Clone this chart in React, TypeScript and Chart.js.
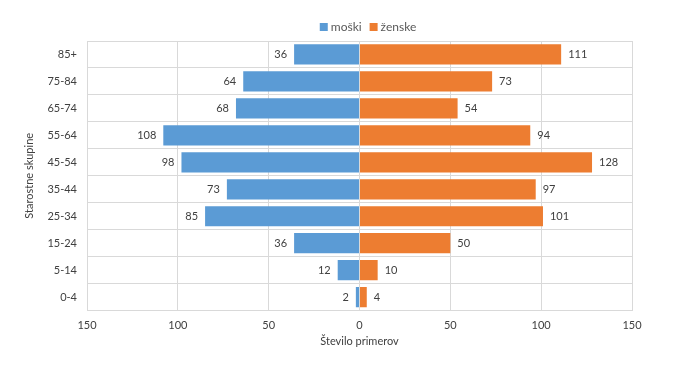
import React, { useEffect, useRef } from "react";
import { Chart, registerables } from "chart.js";

Chart.register(...registerables);

const categories = ["85+", "75-84", "65-74", "55-64", "45-54", "35-44", "25-34", "15-24", "5-14", "0-4"];
const moski = [36, 64, 68, 108, 98, 73, 85, 36, 12, 2];
const zenske = [111, 73, 54, 94, 128, 97, 101, 50, 10, 4];
const xTicks = [-150, -100, -50, 0, 50, 100, 150];
const seriesNames = ["moški", "ženske"];
const seriesColors = ["#5B9BD5", "#ED7D31"];

const FONT = "Lato, 'Liberation Sans', sans-serif";
const TXT = "#404040";

const labelPlugin = {
  id: "barLabels",
  afterDatasetsDraw(chart: any) {
    const ctx = chart.ctx;
    ctx.save();
    ctx.font = `11px ${FONT}`;
    ctx.fillStyle = TXT;
    ctx.textBaseline = "middle";
    chart.data.datasets.forEach((ds: any, di: number) => {
      const meta = chart.getDatasetMeta(di);
      meta.data.forEach((bar: any, i: number) => {
        const v = Math.abs(ds.data[i]);
        if (ds.data[i] < 0) {
          ctx.textAlign = "right";
          ctx.fillText(String(v), bar.x - 7, bar.y);
        } else {
          ctx.textAlign = "left";
          ctx.fillText(String(v), bar.x + 7, bar.y);
        }
      });
    });
    ctx.restore();
  },
};

const legendPlugin = {
  id: "customLegend",
  afterDraw(chart: any) {
    const ctx = chart.ctx;
    ctx.save();
    ctx.font = `12px ${FONT}`;
    ctx.textBaseline = "middle";
    ctx.textAlign = "left";
    const y = 27;
    const gap = 8;
    const widths = chart.data.datasets.map((ds: any) => 8 + 3 + ctx.measureText(ds.label).width);
    const total = widths.reduce((a: number, b: number) => a + b, 0) + gap;
    let x = 368 - total / 2;
    chart.data.datasets.forEach((ds: any, i: number) => {
      ctx.fillStyle = ds.backgroundColor;
      ctx.fillRect(x, y - 4, 8, 8);
      ctx.fillStyle = "#595959";
      ctx.fillText(ds.label, x + 11, y);
      x += widths[i] + gap;
    });
    ctx.restore();
  },
};

export default function App() {
  const ref = useRef<HTMLCanvasElement>(null);
  useEffect(() => {
    if (!ref.current) return;
    const chart = new Chart(ref.current, {
      type: "bar",
      data: {
        labels: categories,
        datasets: [
          { label: seriesNames[0], data: moski.map((v) => -v), backgroundColor: seriesColors[0], barPercentage: 0.75, categoryPercentage: 1 },
          { label: seriesNames[1], data: zenske, backgroundColor: seriesColors[1], barPercentage: 0.75, categoryPercentage: 1 },
        ],
      },
      options: {
        indexAxis: "y",
        responsive: false,
        animation: false,
        layout: { padding: { left: 18, right: 56, top: 41, bottom: 29 } },
        plugins: {
          legend: { display: false },
          tooltip: { enabled: false },
        },
        scales: {
          x: {
            stacked: true,
            min: -150,
            max: 150,
            afterBuildTicks(scale: any) {
              scale.ticks = xTicks.map((v) => ({ value: v }));
            },
            ticks: {
              color: TXT,
              font: { family: FONT, size: 11 },
              padding: 8,
              callback: (v: any) => String(Math.abs(Number(v))),
            },
            grid: { color: "#d9d9d9", drawTicks: false },
            border: { display: false },
            title: { display: true, text: "Število primerov", color: TXT, font: { family: FONT, size: 11 }, padding: { top: -5, bottom: 0 } },
          },
          y: {
            stacked: true,
            afterFit(scale: any) {
              scale.width = 69;
            },
            ticks: { color: TXT, font: { family: FONT, size: 11 }, padding: 10 },
            grid: { color: "#d9d9d9", offset: true, drawTicks: false },
            border: { display: false },
            title: { display: true, text: "Starostne skupine", color: TXT, font: { family: FONT, size: 11 }, padding: { top: 5, bottom: 0 } },
          },
        },
      },
      plugins: [labelPlugin, legendPlugin],
    });
    return () => chart.destroy();
  }, []);
  return (
    <div style={{ position: "fixed", left: 0, top: 0, width: 688, height: 377, background: "#fff" }}>
      <canvas ref={ref} width={688} height={377} />
    </div>
  );
}
